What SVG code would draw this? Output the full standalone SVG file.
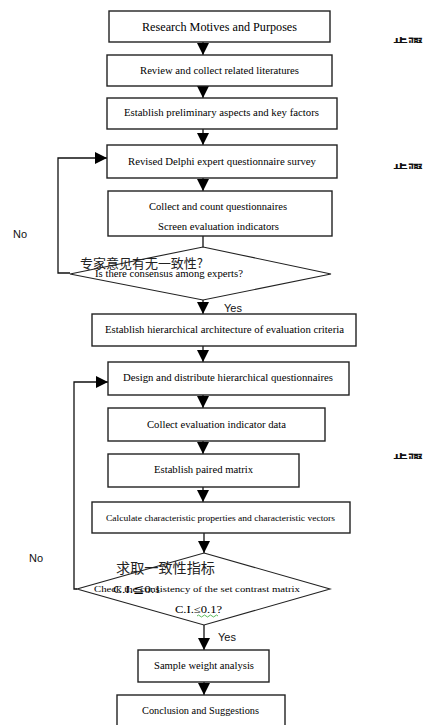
<svg xmlns="http://www.w3.org/2000/svg" width="424" height="725" viewBox="0 0 424 725">
<style>
.box{fill:#fff;stroke:#222;stroke-width:1.4}
.dia{fill:#fff;stroke:#222;stroke-width:1.1}
.t{font-family:"Liberation Serif",serif;fill:#000;text-anchor:middle}
.cn{font-family:"Noto Sans CJK SC",sans-serif;fill:#222;text-anchor:middle}
.lab{font-family:"Liberation Sans",sans-serif;font-size:11px;fill:#111}
.con{fill:none;stroke:#111;stroke-width:1.3}
.side{font-family:"Noto Sans CJK SC",sans-serif;font-size:15px;font-weight:bold;fill:#111}
</style>
<defs>
<marker id="ah" markerUnits="userSpaceOnUse" markerWidth="12" markerHeight="12" refX="12" refY="6" orient="auto">
<path d="M0,0 L12,6 L0,12 z" fill="#000"/>
</marker>
<clipPath id="c1"><rect x="380" y="36" width="44" height="7"/></clipPath>
<clipPath id="c2"><rect x="380" y="162" width="44" height="7"/></clipPath>
<clipPath id="c3"><rect x="380" y="452" width="44" height="7"/></clipPath>
</defs>

<g id="connectors">
<line class="con" x1="203" y1="42" x2="203" y2="55" marker-end="url(#ah)"/>
<line class="con" x1="203" y1="86" x2="203" y2="98" marker-end="url(#ah)"/>
<line class="con" x1="203" y1="129" x2="203" y2="145" marker-end="url(#ah)"/>
<line class="con" x1="203" y1="178" x2="203" y2="191" marker-end="url(#ah)"/>
<line class="con" x1="203" y1="236" x2="203" y2="247"/>
<line class="con" x1="203" y1="300" x2="203" y2="314" marker-end="url(#ah)"/>
<line class="con" x1="203" y1="346" x2="203" y2="362" marker-end="url(#ah)"/>
<line class="con" x1="203" y1="395" x2="203" y2="408" marker-end="url(#ah)"/>
<line class="con" x1="203" y1="441" x2="203" y2="454" marker-end="url(#ah)"/>
<line class="con" x1="203" y1="487" x2="203" y2="502" marker-end="url(#ah)"/>
<line class="con" x1="204" y1="533" x2="204" y2="553" marker-end="url(#ah)"/>
<line class="con" x1="204" y1="625" x2="204" y2="650" marker-end="url(#ah)"/>
<line class="con" x1="204" y1="682" x2="204" y2="695" marker-end="url(#ah)"/>
<polyline class="con" points="70,273 58,273 58,158 107,158" marker-end="url(#ah)"/>
<polyline class="con" points="77,589 74,589 74,382 108,382" marker-end="url(#ah)"/>
<text class="lab" x="13" y="238">No</text>
<text class="lab" x="29" y="562">No</text>
<text class="lab" x="224" y="312">Yes</text>
<text class="lab" x="218" y="641">Yes</text>
</g>

<g id="n1"><rect class="box" x="109" y="11" width="221" height="31"/><text class="t" x="219.5" y="31" font-size="11.5" textLength="155" lengthAdjust="spacingAndGlyphs">Research Motives and Purposes</text></g>
<g id="n2"><rect class="box" x="107" y="55" width="225" height="31"/><text class="t" x="219.5" y="74" font-size="9.5" textLength="159" lengthAdjust="spacingAndGlyphs">Review and collect related literatures</text></g>
<g id="n3"><rect class="box" x="107" y="98" width="230" height="31"/><text class="t" x="221.5" y="116" font-size="9.5" textLength="195" lengthAdjust="spacingAndGlyphs">Establish preliminary aspects and key factors</text></g>
<g id="n4"><rect class="box" x="107" y="145" width="230" height="33"/><text class="t" x="222" y="165" font-size="9.5" textLength="188" lengthAdjust="spacingAndGlyphs">Revised Delphi expert questionnaire  survey</text></g>
<g id="n5"><rect class="box" x="108" y="191" width="224" height="45"/><text class="t" x="218" y="210" font-size="9.5" textLength="138" lengthAdjust="spacingAndGlyphs">Collect and count questionnaires</text><text class="t" x="218.5" y="230" font-size="9.5" textLength="121" lengthAdjust="spacingAndGlyphs">Screen evaluation indicators</text></g>
<g id="d1"><polygon class="dia" points="203,247 331,274 203,300 70,274"/><text class="cn" x="141.5" y="268" font-size="13" textLength="123" lengthAdjust="spacingAndGlyphs">专家意见有无一致性?</text><text class="t" x="169" y="277" font-size="9.5" textLength="148" lengthAdjust="spacingAndGlyphs">Is there consensus among experts?</text></g>
<g id="n6"><rect class="box" x="92" y="314" width="264" height="32"/><text class="t" x="224.5" y="333" font-size="9.5" textLength="239" lengthAdjust="spacingAndGlyphs">Establish hierarchical architecture of evaluation criteria</text></g>
<g id="n7"><rect class="box" x="108" y="362" width="241" height="33"/><text class="t" x="228" y="381" font-size="9.5" textLength="210" lengthAdjust="spacingAndGlyphs">Design and distribute  hierarchical questionnaires</text></g>
<g id="n8"><rect class="box" x="108" y="408" width="217" height="33"/><text class="t" x="216.5" y="428" font-size="9.5" textLength="139" lengthAdjust="spacingAndGlyphs">Collect evaluation  indicator  data</text></g>
<g id="n9"><rect class="box" x="108" y="454" width="191" height="33"/><text class="t" x="203.5" y="473" font-size="9.5" textLength="99" lengthAdjust="spacingAndGlyphs">Establish paired matrix</text></g>
<g id="n10"><rect class="box" x="92" y="502" width="258" height="31"/><text class="t" x="220.5" y="521" font-size="8.5" textLength="229" lengthAdjust="spacingAndGlyphs">Calculate characteristic  properties  and characteristic  vectors</text></g>
<g id="d2"><polygon class="dia" points="204,553 330,589 204,625 77,589"/><text class="cn" x="165.5" y="573" font-size="14" textLength="99" lengthAdjust="spacingAndGlyphs">求取一致性指标</text><text class="t" x="197" y="592" font-size="9" textLength="206" lengthAdjust="spacingAndGlyphs">Check the consistency of the set contrast matrix</text><text class="t" x="137" y="593" font-size="11" fill="#333" textLength="48" lengthAdjust="spacingAndGlyphs">C.I.≦0.1</text><text class="t" x="198.5" y="613" font-size="10" textLength="47" lengthAdjust="spacingAndGlyphs">C.I.≤0.1?</text><path d="M197,616 q1.5,-2 3,0 t3,0 t3,0 t3,0 t3,0 t3,0 t3,0" fill="none" stroke="#3a3" stroke-width="0.8"/></g>
<g id="n11"><rect class="box" x="138" y="650" width="131" height="32"/><text class="t" x="204" y="669" font-size="9.5" textLength="100" lengthAdjust="spacingAndGlyphs">Sample weight analysis</text></g>
<g id="n12"><rect class="box" x="117" y="695" width="168" height="40"/><text class="t" x="200.5" y="714" font-size="9.5" textLength="117" lengthAdjust="spacingAndGlyphs">Conclusion and Suggestions</text></g>

<g id="side">
<text class="side" x="393" y="50" clip-path="url(#c1)">步骤</text>
<text class="side" x="393" y="176" clip-path="url(#c2)">步骤</text>
<text class="side" x="393" y="466" clip-path="url(#c3)">步骤</text>
</g>
</svg>
